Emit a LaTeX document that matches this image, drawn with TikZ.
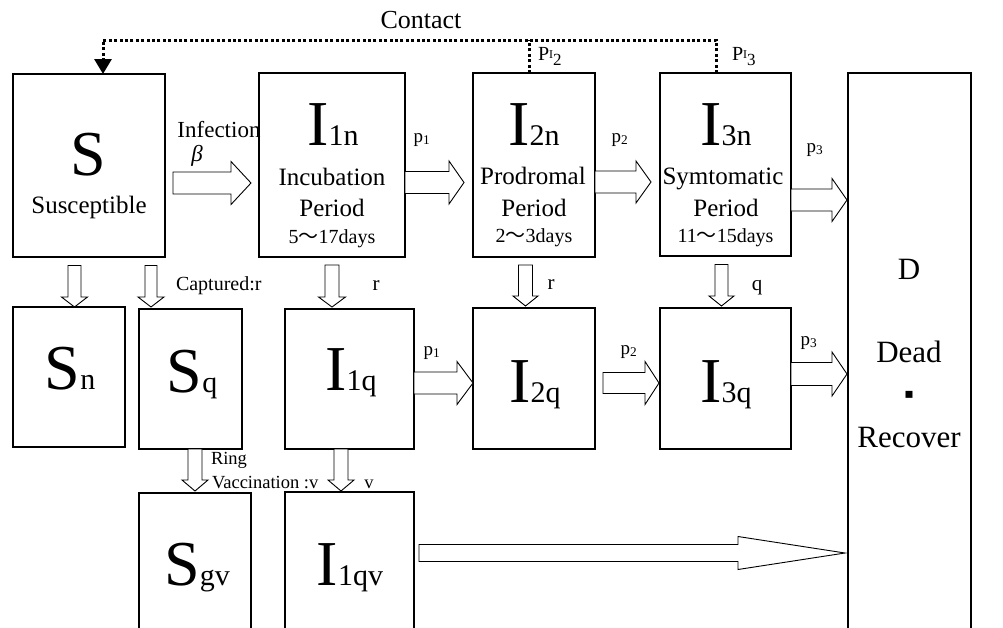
\documentclass[tikz,border=0pt]{standalone}
\usepackage{fontspec}
\setmainfont{Liberation Serif}
\newfontfamily\cjk{Noto Sans CJK JP}
\newfontfamily\symb{DejaVu Sans}
\usetikzlibrary{calc}
\usetikzlibrary{arrows.meta}

% hollow block arrows: tail, tip, shaft half width, head half width, head length
\newcommand{\hblock}[5]{\draw[blockarrow] let \p1=(#1), \p2=(#2) in (\x1,\y1+#3pt) -- (\x2-#5pt,\y1+#3pt) -- (\x2-#5pt,\y1+#4pt) -- (\x2,\y1) -- (\x2-#5pt,\y1-#4pt) -- (\x2-#5pt,\y1-#3pt) -- (\x1,\y1-#3pt) -- cycle;}
\newcommand{\vblock}[5]{\draw[blockarrow] let \p1=(#1), \p2=(#2) in (\x1+#3pt,\y1) -- (\x1+#3pt,\y2+#5pt) -- (\x1+#4pt,\y2+#5pt) -- (\x1,\y2) -- (\x1-#4pt,\y2+#5pt) -- (\x1-#3pt,\y2+#5pt) -- (\x1-#3pt,\y1) -- cycle;}
\newcommand{\compname}[2]{{\fontsize{64}{64}\selectfont #1}{\fontsize{30}{30}\selectfont #2}}
\newcommand{\daywave}{{\cjk ～}}

\begin{document}
\begin{tikzpicture}[x=1pt,y=-1pt,inner sep=0pt,outer sep=0pt,
compartment/.style={draw,rectangle,line width=1.1pt},
blockarrow/.style={draw,fill=white,line width=0.9pt,line join=miter},
contact/.style={line width=3pt,dash pattern=on 3pt off 2.4pt},
stage/.style={anchor=base,font=\fontsize{25}{25}\selectfont},
days/.style={anchor=base,font=\fontsize{20}{20}\selectfont},
rate/.style={anchor=base,font=\fontsize{19}{19}\selectfont}]
\path[use as bounding box,clip] (0,0) rectangle (1003,627);
% compartments
\node[compartment,minimum width=152,minimum height=183] (S) at (89,165.5) {};
\node[compartment,minimum width=146,minimum height=184] (I1n) at (332,165) {};
\node[compartment,minimum width=122,minimum height=184] (I2n) at (534,165) {};
\node[compartment,minimum width=131,minimum height=183] (I3n) at (725.5,164.5) {};
\node[compartment,minimum width=123,minimum height=640,anchor=north] (D) at (909.5,73) {};
\node[compartment,minimum width=112,minimum height=140] (Sn) at (69,377) {};
\node[compartment,minimum width=103,minimum height=140] (Sq) at (190.5,379) {};
\node[compartment,minimum width=129,minimum height=140] (I1q) at (349.5,379) {};
\node[compartment,minimum width=122,minimum height=141] (I2q) at (534,378.5) {};
\node[compartment,minimum width=131,minimum height=141] (I3q) at (725.5,378.5) {};
\node[compartment,minimum width=112,minimum height=200,anchor=north] (Sgv) at (195,493) {};
\node[compartment,minimum width=129,minimum height=200,anchor=north] (I1qv) at (349.5,492) {};

% texts in the compartments
\node[anchor=base] (S-sym) at (88,175) {\compname{S}{}};
\node[stage] (S-name) at (89,213) {Susceptible};
\node[anchor=base] (I1n-sym) at (333,145) {\compname{I}{1n}};
\node[stage] (I1n-name) at (332,185) {Incubation};
\node[stage] (I1n-period) at (332,216.5) {Period};
\node[days] (I1n-days) at (332,243) {5\daywave17days};
\node[anchor=base] (I2n-sym) at (534,145) {\compname{I}{2n}};
\node[stage] (I2n-name) at (533,184) {Prodromal};
\node[stage] (I2n-period) at (534,216) {Period};
\node[days] (I2n-days) at (534,242) {2\daywave3days};
\node[anchor=base] (I3n-sym) at (726,145) {\compname{I}{3n}};
\node[stage] (I3n-name) at (723,184) {Symtomatic};
\node[stage] (I3n-period) at (726,216) {Period};
\node[days] (I3n-days) at (725.5,242) {11\daywave15days};
\node[anchor=base] (Sn-sym) at (70,389) {\compname{S}{n}};
\node[anchor=base] (Sq-sym) at (192,392) {\compname{S}{q}};
\node[anchor=base] (I1q-sym) at (351,390) {\compname{I}{1q}};
\node[anchor=base] (I2q-sym) at (535,402) {\compname{I}{2q}};
\node[anchor=base] (I3q-sym) at (726,402) {\compname{I}{3q}};
\node[anchor=base] (Sgv-sym) at (197,585) {\compname{S}{gv}};
\node[anchor=base] (I1qv-sym) at (350,585) {\compname{I}{1qv}};
\node[anchor=base,font=\fontsize{31}{31}\selectfont] (D-sym) at (909,279) {D};
\node[anchor=base,font=\fontsize{31}{31}\selectfont] (D-dead) at (909,362) {Dead};
\node[font=\fontsize{14}{14}\selectfont\symb] (D-dot) at (909,395) {▪};
\node[anchor=base,font=\fontsize{31}{31}\selectfont] (D-recover) at (909,447) {Recover};

% flows
\hblock{[xshift=8,yshift=-17.5]S.east}{[xshift=-8]I1n.west}{11}{21.5}{20}
\hblock{[yshift=-17.5]I1n.east}{[xshift=-9]I2n.west}{11}{21.5}{15}
\hblock{[yshift=-17]I2n.east}{[xshift=-9]I3n.west}{11}{21}{15}
\hblock{[yshift=-35.5]I3n.east}{[xshift=-1]D.west}{11}{21.5}{15}
\hblock{[yshift=-4]I1q.east}{I2q.west}{11}{21.5}{16}
\hblock{[xshift=8,yshift=-4.5]I2q.east}{[xshift=-1]I3q.west}{10.5}{21.5}{14}
\hblock{[yshift=4.5]I3q.east}{[xshift=-1]D.west}{11.5}{22}{15}
\hblock{[xshift=5,yshift=-61]I1qv.north east}{[xshift=-3]D.west}{8.5}{16.5}{107}
\vblock{[xshift=-14.5,yshift=-8.5]S.south}{Sn.north}{6.5}{13}{10}
\vblock{[xshift=62,yshift=-8.5]S.south}{[yshift=2]Sq.north}{6}{13}{10}
\vblock{[yshift=-8]I1n.south}{[yshift=2]I1q.north}{7}{13.5}{10}
\vblock{[xshift=-8.5,yshift=-8]I2n.south}{[yshift=2]I2q.north}{7}{12.5}{10}
\vblock{[xshift=-4,yshift=-8.5]I3n.south}{[yshift=2]I3q.north}{6.5}{12.5}{10}
\vblock{[xshift=4.5]Sq.south}{[yshift=2]Sgv.north}{7}{13}{11}
\vblock{[xshift=-8.5]I1q.south}{[yshift=1]I1qv.north}{7}{13}{11}

% contact feedback
\draw[contact,-{Triangle[width=17pt,length=15pt]}] ([xshift=-9.5]I3n.north) |- ([xshift=14,yshift=34]S.north) -- ([xshift=14]S.north);
\draw[contact] ([xshift=-5]I2n.north) -- ([xshift=-5,yshift=33]I2n.north);

% labels
\node[font=\fontsize{26}{26}\selectfont] (contact) at (421,20) {Contact};
\node[anchor=base west,font=\fontsize{20}{20}\selectfont] (pI2) at (538,60) {P\raisebox{2pt}{\fontsize{12}{12}\selectfont I}\raisebox{-5pt}{\fontsize{17}{17}\selectfont 2}};
\node[anchor=base west,font=\fontsize{20}{20}\selectfont] (pI3) at (732,60) {P\raisebox{2pt}{\fontsize{12}{12}\selectfont I}\raisebox{-5pt}{\fontsize{17}{17}\selectfont 3}};
\node[anchor=base,font=\fontsize{23}{23}\selectfont] (infection) at (219,137) {Infection};
\node[font=\fontsize{23}{23}\selectfont\itshape] (beta) at (197,156) {β};
\node[rate] (p1n) at (422,142) {p\textsubscript{1}};
\node[rate] (p2n) at (620,142) {p\textsubscript{2}};
\node[rate] (p3n) at (815,152) {p\textsubscript{3}};
\node[rate] (p1q) at (432,355) {p\textsubscript{1}};
\node[rate] (p2q) at (629,354) {p\textsubscript{2}};
\node[rate] (p3q) at (809,345) {p\textsubscript{3}};
\node[anchor=base west,font=\fontsize{20}{20}\selectfont] (captured) at (176,290) {Captured:r};
\node[rate,font=\fontsize{21}{21}\selectfont] (r1) at (376,290) {r};
\node[rate,font=\fontsize{21}{21}\selectfont] (r2) at (551,289) {r};
\node[rate,font=\fontsize{21}{21}\selectfont] (q) at (757,290) {q};
\node[anchor=base west,font=\fontsize{18.5}{18.5}\selectfont] (ring) at (211,464) {Ring};
\node[anchor=base west,font=\fontsize{18.5}{18.5}\selectfont] (vaccination) at (212,488) {Vaccination :v};
\node[rate,font=\fontsize{18.5}{18.5}\selectfont] (v) at (369,488) {v};
\end{tikzpicture}
\end{document}
